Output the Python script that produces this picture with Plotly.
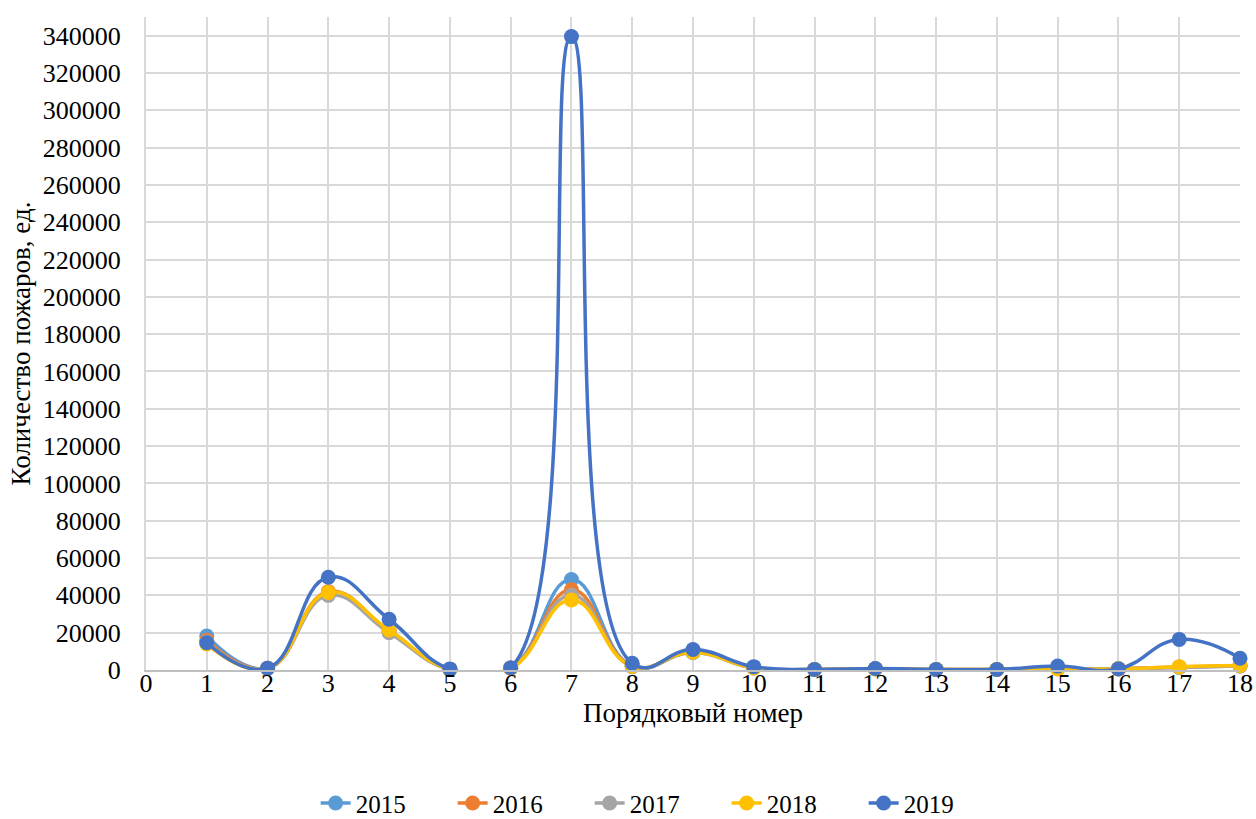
import plotly.graph_objects as go

x = list(range(1, 19))
years = ["2015", "2016", "2017", "2018", "2019"]
v2015 = [18200, 900, 41000, 20500, 300, 1000, 48500, 2000, 9500, 1200, 300, 700, 300, 300, 800, 700, 1500, 2200]
v2016 = [16000, 900, 42000, 21000, 300, 1000, 43000, 2000, 9800, 1200, 300, 700, 300, 300, 800, 700, 1600, 2300]
v2017 = [15000, 800, 40000, 20000, 300, 1000, 40000, 1800, 9300, 1100, 300, 700, 300, 300, 700, 700, 1500, 2200]
v2018 = [14000, 900, 41500, 21400, 300, 1000, 37500, 2000, 9500, 1100, 300, 600, 300, 300, 500, 600, 1800, 2400]
v2019 = [14600, 1000, 49700, 27200, 600, 1200, 339500, 3600, 11000, 1800, 300, 800, 300, 300, 2100, 600, 16400, 6300]
colors = ["#5B9BD5", "#ED7D31", "#A5A5A5", "#FFC000", "#4472C4"]
series = [v2015, v2016, v2017, v2018, v2019]

fig = go.Figure()
for name, vals, c in zip(years, series, colors):
    fig.add_trace(go.Scatter(
        x=x, y=vals, name=name, mode="lines+markers",
        line=dict(color=c, width=3.5, shape="spline", smoothing=1.3),
        marker=dict(color=c, size=15),
        cliponaxis=False,
    ))

fam = "Liberation Serif, Times New Roman, serif"
tickfont = dict(family=fam, size=26, color="#000000")
titlefont = dict(family=fam, size=27, color="#000000")
fig.update_layout(
    width=1256, height=819,
    paper_bgcolor="white", plot_bgcolor="white",
    margin=dict(l=146, r=16, t=17, b=149, autoexpand=False),
    font=tickfont,
    showlegend=True,
    legend=dict(orientation="h", x=0.524, xanchor="center", xref="container",
                y=-0.204, yanchor="middle", yref="paper",
                font=dict(family=fam, size=25, color="#000"),
                entrywidth=92, entrywidthmode="pixels",
                tracegroupgap=0),
    xaxis=dict(
        range=[0, 18], dtick=1, tick0=0, showgrid=True, gridcolor="#D9D9D9", gridwidth=2,
        showline=True, linecolor="#BFBFBF", linewidth=2, zeroline=False,
        ticks="", tickfont=tickfont, automargin=False,
        ticklabeloverflow="allow", ticklabelstandoff=-11,
        title=dict(text="Порядковый номер", font=titlefont, standoff=6),
    ),
    yaxis=dict(
        range=[0, 350000], tickvals=list(range(0, 340001, 20000)),
        showgrid=True, gridcolor="#D9D9D9", gridwidth=2,
        showline=True, linecolor="#D9D9D9", linewidth=2, zeroline=False,
        ticks="", tickfont=tickfont, tickformat="d", automargin=False,
        ticklabelstandoff=18,
        title=dict(text="Количество пожаров, ед.", font=titlefont, standoff=4),
    ),
)
fig.write_html("out.html", config={"displayModeBar": False},
               post_script="document.body.style.margin='0';")
